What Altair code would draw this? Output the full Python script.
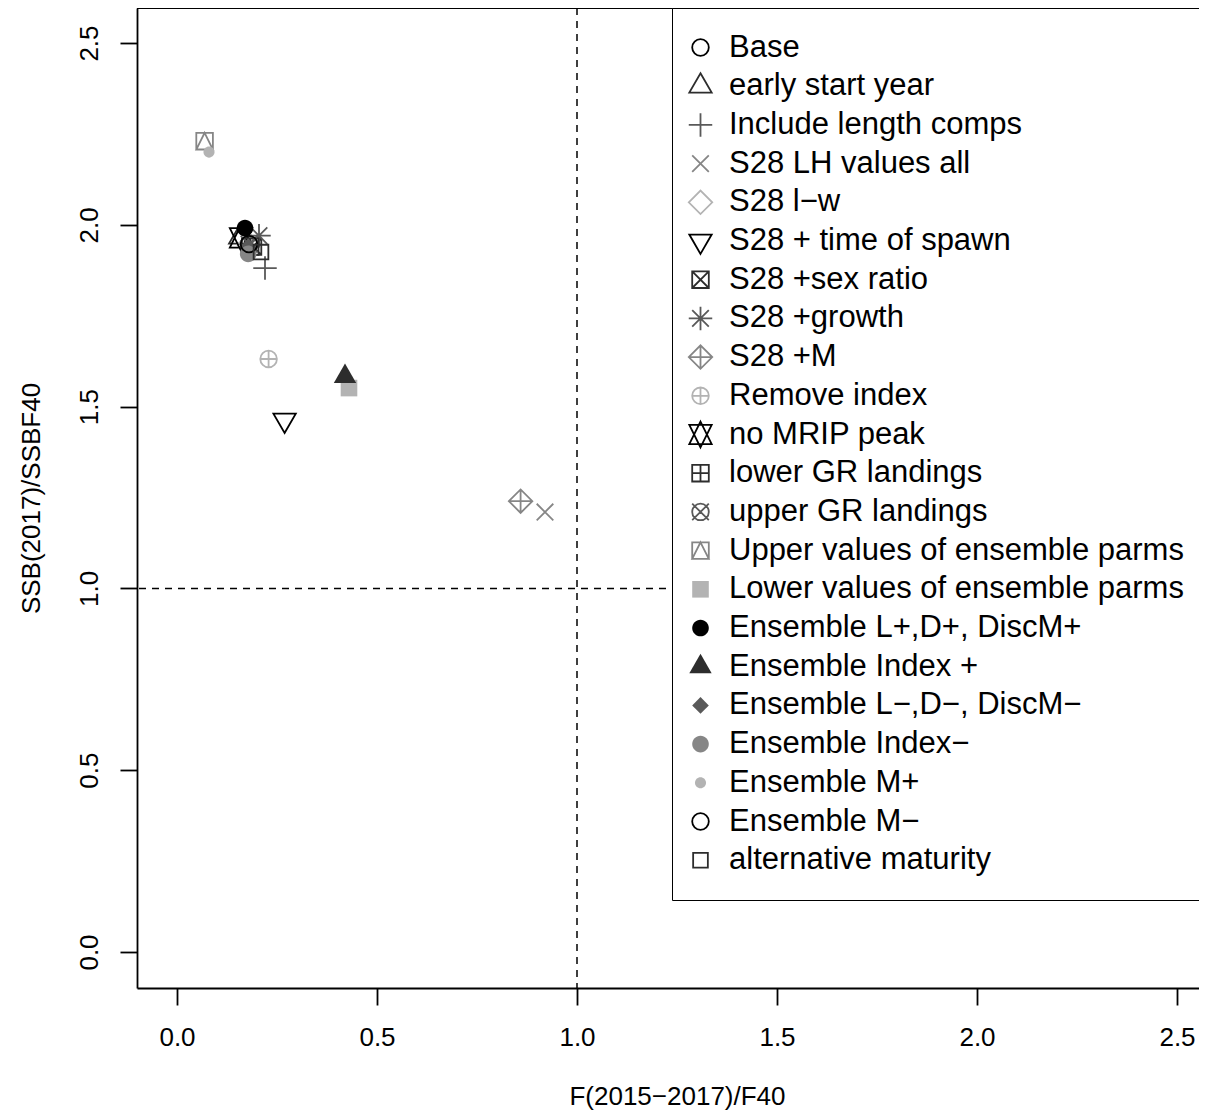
import altair as alt
import pandas as pd

# ---------------- data ----------------
labels = [
    "Base", "early start year", "Include length comps", "S28 LH values all",
    "S28 l\u2212w", "S28 + time of spawn", "S28 +sex ratio", "S28 +growth",
    "S28 +M", "Remove index", "no MRIP peak", "lower GR landings",
    "upper GR landings", "Upper values of ensemble parms",
    "Lower values of ensemble parms", "Ensemble L+,D+, DiscM+",
    "Ensemble Index +", "Ensemble L\u2212,D\u2212, DiscM\u2212",
    "Ensemble Index\u2212", "Ensemble M+", "Ensemble M\u2212", "alternative maturity",
]
f_ratio = [0.180, 0.158, 0.220, 0.920, 0.180, 0.269, 0.190, 0.205, 0.859, 0.229,
           0.160, 0.183, 0.180, 0.069, 0.430, 0.170, 0.420, 0.178, 0.178, 0.080,
           0.180, 0.210]
ssb_ratio = [1.947, 1.966, 1.881, 1.210, 1.945, 1.463, 1.940, 1.970, 1.240, 1.631,
             1.964, 1.940, 1.947, 2.230, 1.551, 1.991, 1.583, 1.940, 1.920, 2.200,
             1.947, 1.925]
x_ticks = [0.0, 0.5, 1.0, 1.5, 2.0, 2.5]
y_ticks = [0.0, 0.5, 1.0, 1.5, 2.0, 2.5]
ref_f = [1.0]
ref_ssb = [1.0]

# ---------------- symbol styles (R pch 1..22 look-alikes) ----------------
pch = list(range(1, 23))
greys = ["#000000", "#2d2d2d", "#595959", "#868686", "#b3b3b3"]
SIZE = 576            # path unit = sqrt(SIZE)/2 = 12 px
U = 8.3 / 12.0        # R symbol radius in path units


def n(v):
    return f"{v:.4f}"


def circ(r):
    return (f"M {n(-r)} 0 A {n(r)} {n(r)} 0 1 0 {n(r)} 0 "
            f"A {n(r)} {n(r)} 0 1 0 {n(-r)} 0 Z ")


def sq(h):
    return f"M {n(-h)} {n(-h)} L {n(h)} {n(-h)} L {n(h)} {n(h)} L {n(-h)} {n(h)} Z "


def plus(h):
    return f"M {n(-h)} 0 L {n(h)} 0 M 0 {n(-h)} L 0 {n(h)} "


def xcross(h):
    return f"M {n(-h)} {n(-h)} L {n(h)} {n(h)} M {n(-h)} {n(h)} L {n(h)} {n(-h)} "


def diam(h):
    return f"M {n(-h)} 0 L 0 {n(-h)} L {n(h)} 0 L 0 {n(h)} Z "


def tri(up, r, xc, yc):
    s = -1 if up else 1
    return f"M 0 {n(s * r)} L {n(xc)} {n(-s * yc)} L {n(-xc)} {n(-s * yc)} Z "


T0, T1, T2 = 1.5551203, 1.3467737, 0.7775602
R2 = 2 ** 0.5


def pch_path(p):
    u = U
    if p in (1, 16, 19, 21):
        return circ(u)
    if p in (2, 17):
        return tri(True, T0 * u, T1 * u, T2 * u)
    if p == 3:
        return plus(R2 * u)
    if p == 4:
        return xcross(u)
    if p == 5:
        return diam(R2 * u)
    if p == 6:
        return tri(False, T0 * u, T1 * u, T2 * u)
    if p == 7:
        return sq(u) + xcross(u)
    if p == 8:
        return xcross(u) + plus(R2 * u)
    if p == 9:
        return diam(R2 * u) + plus(R2 * u)
    if p == 10:
        return circ(u) + plus(u)
    if p == 11:
        yc = 0.5 * (T2 + T0) * u
        return tri(True, T0 * u, T1 * u, yc) + tri(False, T0 * u, T1 * u, yc)
    if p == 12:
        return sq(u) + plus(u)
    if p == 13:
        return circ(u) + xcross(u)
    if p == 14:
        return sq(u) + f"M 0 {n(-u)} L {n(u)} {n(u)} L {n(-u)} {n(u)} Z "
    if p == 15:
        return sq(u)
    if p == 18:
        return diam(u)
    if p == 20:
        return circ(2.0 * u / 3.0)
    if p == 22:
        return sq(0.8862269 * u)
    return circ(u)


paths = [pch_path(p).strip() for p in pch]
cols = [greys[(p - 1) % 5] for p in pch]
filled = [15 <= p <= 20 for p in pch]
fills = [c if f else "transparent" for c, f in zip(cols, filled)]
strokes = ["transparent" if f else c for c, f in zip(cols, filled)]

df = pd.DataFrame({"label": labels, "f": f_ratio, "ssb": ssb_ratio})

# ---------------- layout ----------------
W, H = 1062, 980
FONT = "Liberation Sans"
xscale = alt.Scale(domain=[-0.1, 2.555], nice=False, zero=False)
yscale = alt.Scale(domain=[-0.099, 2.5963], nice=False, zero=False)

xaxis = alt.Axis(values=x_ticks, format=".1f", title="F(2015\u22122017)/F40",
                 labelBaseline="middle", labelPadding=32,
                 titleX=540, titleY=108, titleBaseline="middle", titleAlign="center")
yaxis = alt.Axis(values=y_ticks, format=".1f", title="SSB(2017)/SSBF40",
                 labelAngle=270, labelAlign="center", labelBaseline="middle",
                 labelPadding=31, titleAngle=270, titleX=-106, titleY=490,
                 titleBaseline="middle", titleAlign="center")

leg = alt.Legend(orient="none", legendX=535, legendY=0, fillColor="white",
                 strokeColor="black", padding=24, symbolOffset=-11, labelOffset=13,
                 rowPadding=3.7, gridAlign="all", symbolSize=SIZE,
                 symbolStrokeWidth=1.8, labelFont=FONT, labelFontSize=31,
                 labelColor="black", labelLimit=800)

vline = alt.Chart(pd.DataFrame({"f": ref_f})).mark_rule(
    color="black", strokeWidth=1.5, strokeDash=[7, 6]
).encode(x=alt.X("f:Q", scale=xscale, axis=xaxis))

hline = alt.Chart(pd.DataFrame({"ssb": ref_ssb})).mark_rule(
    color="black", strokeWidth=1.5, strokeDash=[7, 6]
).encode(y=alt.Y("ssb:Q", scale=yscale, axis=yaxis))

topline = alt.Chart(pd.DataFrame({"a": [0]})).mark_rule(
    color="black", strokeWidth=1.8
).encode(x=alt.value(0), x2=alt.value(W), y=alt.value(0))

points = alt.Chart(df).mark_point(size=SIZE, strokeWidth=1.8, opacity=1).encode(
    x=alt.X("f:Q", scale=xscale, axis=xaxis),
    y=alt.Y("ssb:Q", scale=yscale, axis=yaxis),
    shape=alt.Shape("label:N", scale=alt.Scale(domain=labels, range=paths),
                    legend=leg, title=None),
    stroke=alt.Stroke("label:N", scale=alt.Scale(domain=labels, range=strokes),
                      legend=leg, title=None),
    fill=alt.Fill("label:N", scale=alt.Scale(domain=labels, range=fills),
                  legend=leg, title=None),
)

chart = alt.layer(vline, hline, topline, points).properties(
    width=W, height=H, background="white",
    autosize=alt.AutoSizeParams(type="none"),
    padding={"left": 129, "top": 0, "right": 0, "bottom": 122},
).configure_view(strokeWidth=0).configure_axis(
    grid=False, domainColor="black", domainWidth=1.8, tickColor="black",
    tickWidth=1.8, tickSize=17, labelFont=FONT, labelFontSize=26,
    labelColor="black", titleFont=FONT, titleFontSize=26,
    titleFontWeight="normal", titleColor="black",
)

chart.save("out.html", embed_options={"renderer": "svg", "actions": False})
